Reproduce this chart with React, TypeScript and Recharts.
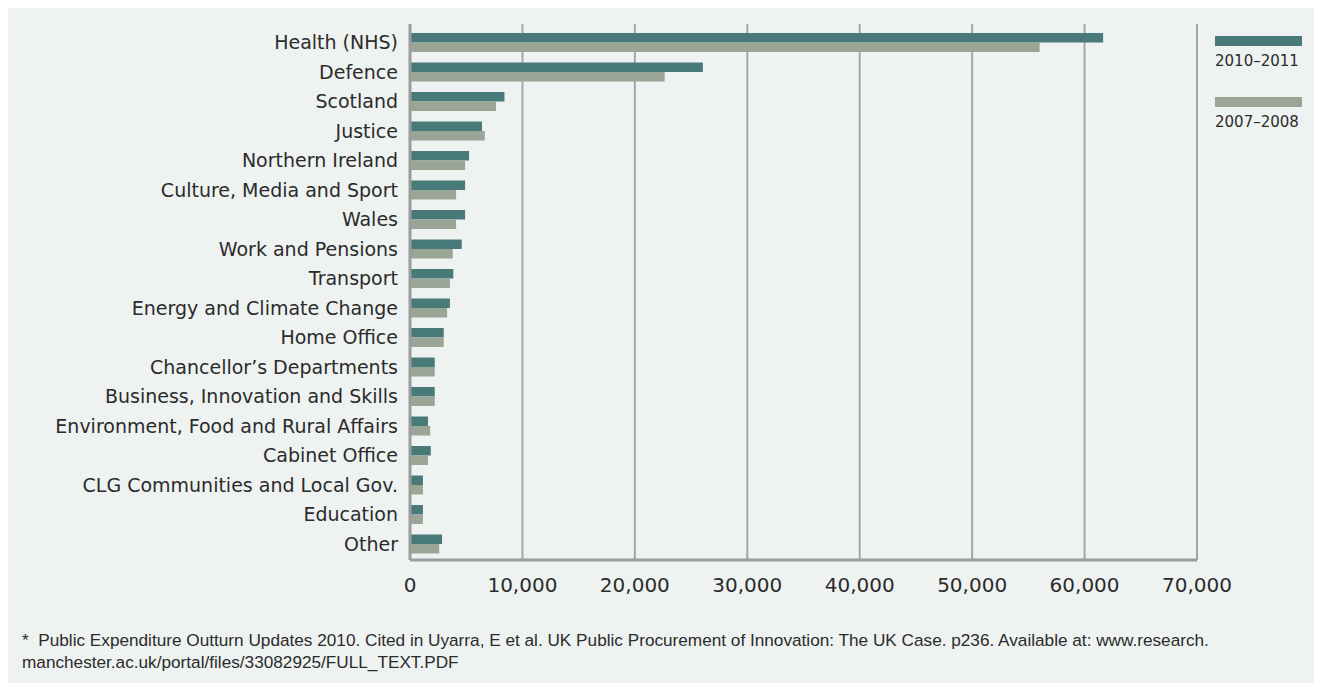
import React from "react";
import { BarChart, Bar, XAxis, YAxis, CartesianGrid } from "recharts";

const departments = [
  "Health (NHS)",
  "Defence",
  "Scotland",
  "Justice",
  "Northern Ireland",
  "Culture, Media and Sport",
  "Wales",
  "Work and Pensions",
  "Transport",
  "Energy and Climate Change",
  "Home Office",
  "Chancellor’s Departments",
  "Business, Innovation and Skills",
  "Environment, Food and Rural Affairs",
  "Cabinet Office",
  "CLG Communities and Local Gov.",
  "Education",
  "Other",
];

const spend2010 = [
  61650, 26050, 8400, 6400, 5250, 4900, 4900, 4600, 3850, 3550, 3000, 2200,
  2200, 1600, 1850, 1150, 1150, 2850,
];

const spend2007 = [
  56000, 22650, 7650, 6650, 4900, 4100, 4100, 3800, 3550, 3300, 3000, 2200,
  2200, 1800, 1600, 1150, 1150, 2600,
];

const xTicks = [0, 10000, 20000, 30000, 40000, 50000, 60000, 70000];

const DARK = "#487a79";
const LIGHT = "#9aa595";
const BG = "#eef2f1";
const TEXT = "#2b2b2b";
const FONT = "'DejaVu Sans', sans-serif";

const series = [
  { key: "y2010", label: "2010–2011", color: DARK },
  { key: "y2007", label: "2007–2008", color: LIGHT },
];

const data = departments.map((name, i) => ({
  name,
  y2010: spend2010[i],
  y2007: spend2007[i],
}));

const fmt = (v: number) => v.toLocaleString("en-GB");

export default function App() {
  return (
    <div
      style={{
        width: 1314,
        height: 675,
        background: BG,
        position: "relative",
      }}
    >
      <BarChart
        width={1314}
        height={600}
        data={data}
        layout="vertical"
        margin={{ top: 16, right: 125, bottom: 8, left: 0 }}
        barSize={9.5}
        barGap={0}
      >
        <CartesianGrid
          horizontal={false}
          stroke="#a6a6a6"
          strokeWidth={2}
          verticalValues={xTicks.slice(1)}
        />
        <XAxis
          type="number"
          domain={[0, 70000]}
          ticks={xTicks}
          tickFormatter={fmt}
          axisLine={{ stroke: "#9c9c9c", strokeWidth: 3 }}
          tickLine={false}
          tickMargin={12}
          height={40}
          tick={{ fill: TEXT, fontSize: 20, fontFamily: FONT }}
        />
        <YAxis
          type="category"
          dataKey="name"
          width={402}
          axisLine={{ stroke: "#9c9c9c", strokeWidth: 3 }}
          tickLine={false}
          tickMargin={6}
          interval={0}
          padding={{ top: 4, bottom: 1 }}
          tick={{ fill: TEXT, fontSize: 19, fontFamily: FONT }}
        />
        {series.map((s) => (
          <Bar
            key={s.key}
            dataKey={s.key}
            name={s.label}
            fill={s.color}
            isAnimationActive={false}
          />
        ))}
      </BarChart>

      {/* legend */}
      <div style={{ position: "absolute", left: 1207, top: 28 }}>
        {series.map((s) => (
          <div key={s.key} style={{ marginBottom: 27 }}>
            <div style={{ width: 87, height: 10, background: s.color }} />
            <div
              style={{
                fontFamily: FONT,
                fontSize: 15,
                color: TEXT,
                marginTop: 6,
                lineHeight: "18px",
              }}
            >
              {s.label}
            </div>
          </div>
        ))}
      </div>

      <div
        style={{
          position: "absolute",
          left: 14,
          top: 621,
          fontFamily: "'Liberation Sans', Arial, sans-serif",
          fontSize: 17.2,
          lineHeight: "22px",
          color: TEXT,
          whiteSpace: "nowrap",
        }}
      >
        * &nbsp;Public Expenditure Outturn Updates 2010. Cited in Uyarra, E et
        al. UK Public Procurement of Innovation: The UK Case. p236. Available
        at: www.research.
        <br />
        manchester.ac.uk/portal/files/33082925/FULL_TEXT.PDF
      </div>
    </div>
  );
}
